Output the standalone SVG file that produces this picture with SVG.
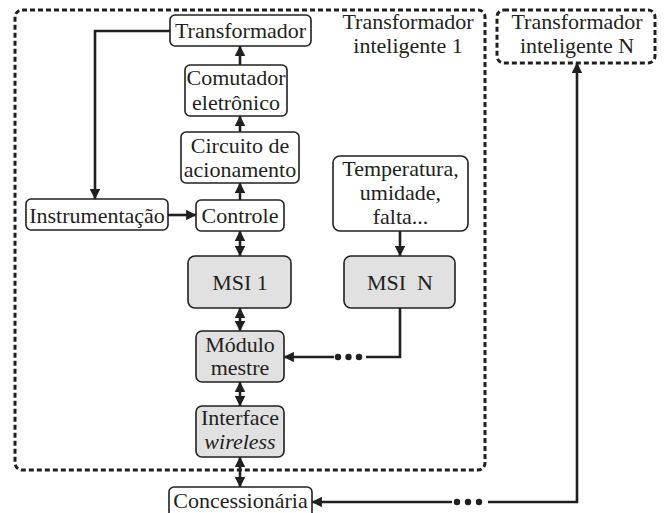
<svg xmlns="http://www.w3.org/2000/svg" width="665" height="513" viewBox="0 0 665 513">
  <style>
    .node { fill: #ffffff; stroke: #231f20; stroke-width: 1.6; }
    .shade { fill: #e1e1e1; stroke: #231f20; stroke-width: 1.6; }
    .group { fill: none; stroke: #231f20; stroke-width: 3; stroke-dasharray: 5 3; }
    .wire { fill: none; stroke: #231f20; stroke-width: 2.6; }
    .dot { fill: #231f20; }
    text { font-family: "Liberation Serif", "Times New Roman", serif; font-size: 22px; fill: #231f20; text-anchor: middle; }
  </style>
  <defs>
    <marker id="head" viewBox="0 0 10 10" refX="9.5" refY="5" markerWidth="4" markerHeight="4" markerUnits="strokeWidth" orient="auto-start-reverse">
      <path d="M0,0 L10,5 L0,10 Z" fill="#231f20"/>
    </marker>
  </defs>

  <rect width="665" height="513" fill="#ffffff"/>

  <!-- dashed enclosures -->
  <g id="transformador-inteligente-1">
    <rect class="group" x="15" y="10" width="470" height="460" rx="7"/>
    <text x="408" y="29">Transformador</text>
    <text x="408" y="53">inteligente 1</text>
  </g>
  <g id="transformador-inteligente-n">
    <rect class="group" x="497" y="10" width="158" height="53" rx="7"/>
    <text x="577" y="29">Transformador</text>
    <text x="577" y="53">inteligente N</text>
  </g>

  <!-- connectors -->
  <g id="connectors">
    <polyline class="wire" points="170,31 95,31 95,199" marker-end="url(#head)"/>
    <line class="wire" x1="168" y1="215" x2="196" y2="215" marker-end="url(#head)"/>
    <line class="wire" x1="240" y1="200" x2="240" y2="183" marker-end="url(#head)"/>
    <line class="wire" x1="240" y1="132" x2="240" y2="116" marker-end="url(#head)"/>
    <line class="wire" x1="240" y1="65" x2="240" y2="46" marker-end="url(#head)"/>
    <line class="wire" x1="240" y1="231" x2="240" y2="256" marker-start="url(#head)" marker-end="url(#head)"/>
    <line class="wire" x1="240" y1="308" x2="240" y2="331" marker-start="url(#head)" marker-end="url(#head)"/>
    <line class="wire" x1="240" y1="382" x2="240" y2="406" marker-start="url(#head)" marker-end="url(#head)"/>
    <line class="wire" x1="240" y1="457" x2="240" y2="487" marker-start="url(#head)" marker-end="url(#head)"/>
    <line class="wire" x1="400" y1="231" x2="400" y2="256" marker-end="url(#head)"/>
    <!-- MSI N to Módulo mestre -->
    <polyline class="wire" points="400,308 400,357 366,357"/>
    <circle class="dot" cx="338" cy="357" r="3.2"/>
    <circle class="dot" cx="348.5" cy="357" r="3.2"/>
    <circle class="dot" cx="359" cy="357" r="3.2"/>
    <line class="wire" x1="334" y1="357" x2="284" y2="357" marker-end="url(#head)"/>
    <!-- Concessionária to Transformador inteligente N -->
    <line class="wire" x1="452" y1="502" x2="312" y2="502" marker-end="url(#head)"/>
    <circle class="dot" cx="457" cy="502" r="3.2"/>
    <circle class="dot" cx="468" cy="502" r="3.2"/>
    <circle class="dot" cx="479" cy="502" r="3.2"/>
    <polyline class="wire" points="488,502 577,502 577,63" marker-end="url(#head)"/>
  </g>

  <!-- blocks -->
  <g id="transformador">
    <rect class="node" x="170" y="15" width="141" height="31" rx="5"/>
    <text x="240.5" y="38">Transformador</text>
  </g>
  <g id="comutador">
    <rect class="node" x="185" y="65" width="102" height="51" rx="5"/>
    <text x="236" y="85">Comutador</text>
    <text x="236" y="110">eletrônico</text>
  </g>
  <g id="circuito">
    <rect class="node" x="181" y="132" width="118" height="51" rx="5"/>
    <text x="240" y="153">Circuito de</text>
    <text x="240" y="177">acionamento</text>
  </g>
  <g id="instrumentacao">
    <rect class="node" x="26" y="199" width="142" height="31" rx="5"/>
    <text x="97" y="223">Instrumentação</text>
  </g>
  <g id="controle">
    <rect class="node" x="196" y="200" width="88" height="31" rx="5"/>
    <text x="240" y="223">Controle</text>
  </g>
  <g id="temperatura">
    <rect class="node" x="333" y="156" width="135" height="75" rx="7"/>
    <text x="400.5" y="176">Temperatura,</text>
    <text x="400.5" y="200">umidade,</text>
    <text x="400.5" y="224">falta...</text>
  </g>
  <g id="msi-1">
    <rect class="shade" x="188" y="256" width="103" height="52" rx="7"/>
    <text x="240" y="290">MSI 1</text>
  </g>
  <g id="msi-n">
    <rect class="shade" x="344" y="256" width="111" height="52" rx="7"/>
    <text x="400" y="290" xml:space="preserve">MSI  N</text>
  </g>
  <g id="modulo-mestre">
    <rect class="shade" x="196" y="331" width="88" height="51" rx="6"/>
    <text x="240" y="352">Módulo</text>
    <text x="240" y="375">mestre</text>
  </g>
  <g id="interface-wireless">
    <rect class="shade" x="196" y="406" width="88" height="51" rx="6"/>
    <text x="240" y="425">Interface</text>
    <text x="240" y="449" font-style="italic">wireless</text>
  </g>
  <g id="concessionaria">
    <rect class="node" x="169" y="487" width="143" height="34" rx="5"/>
    <text x="240.5" y="508">Concessionária</text>
  </g>
</svg>
